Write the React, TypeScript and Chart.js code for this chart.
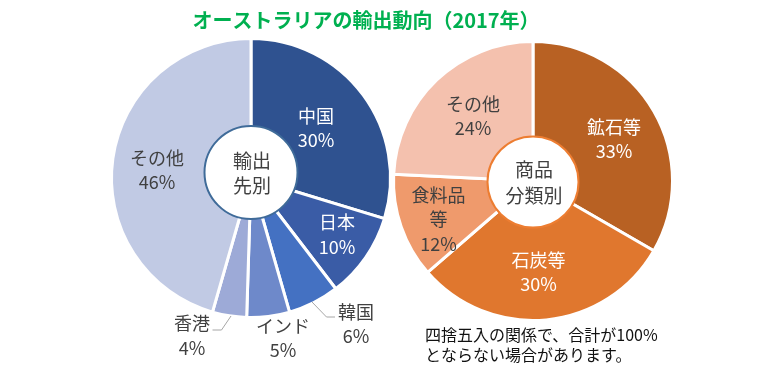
import React, { useEffect, useRef } from "react";
import { Chart, registerables } from "chart.js";

Chart.register(...registerables);

const TITLE = "オーストラリアの輸出動向（2017年）";

const destLabels = ["中国", "日本", "韓国", "インド", "香港", "その他"];
const destValues = [30, 10, 6, 5, 4, 46];
const destColors = ["#2F5290", "#3A5CA6", "#4471C2", "#6E89CA", "#9DAAD7", "#C1CAE4"];
const destCenter = ["輸出", "先別"];

const goodsLabels = ["鉱石等", "石炭等", "食料品等", "その他"];
const goodsValues = [33, 30, 12, 24];
const goodsColors = ["#B86123", "#E0772E", "#EF9A6C", "#F4C1AE"];
const goodsCenter = ["商品", "分類別"];

const NOTE = ["四捨五入の関係で、合計が100%", "とならない場合があります。"];

const FONT = '"Noto Sans CJK JP", "Noto Sans", sans-serif';
const DARK = "#404040";
const WHITE = "#FFFFFF";

type Lbl = { lines: string[]; x: number; y: number; color: string };

function drawLines(ctx: CanvasRenderingContext2D, l: Lbl, size: number, gap: number) {
  ctx.save();
  ctx.font = `${size}px ${FONT}`;
  ctx.fillStyle = l.color;
  ctx.textAlign = "center";
  ctx.textBaseline = "middle";
  l.lines.forEach((t, i) => ctx.fillText(t, l.x, l.y + i * gap));
  ctx.restore();
}

function leader(ctx: CanvasRenderingContext2D, pts: number[][]) {
  ctx.save();
  ctx.strokeStyle = "#A6A6A6";
  ctx.lineWidth = 1;
  ctx.beginPath();
  pts.forEach((p, i) => (i === 0 ? ctx.moveTo(p[0], p[1]) : ctx.lineTo(p[0], p[1])));
  ctx.stroke();
  ctx.restore();
}

function circle(ctx: CanvasRenderingContext2D, x: number, y: number, r: number, stroke: string) {
  ctx.save();
  ctx.beginPath();
  ctx.arc(x, y, r, 0, Math.PI * 2);
  ctx.fillStyle = "#FFFFFF";
  ctx.fill();
  ctx.lineWidth = 2;
  ctx.strokeStyle = stroke;
  ctx.stroke();
  ctx.restore();
}

const leftPlugin = {
  id: "leftDecor",
  afterDraw(chart: any) {
    const ctx = chart.ctx as CanvasRenderingContext2D;
    // title
    ctx.save();
    ctx.font = `bold 20px ${FONT}`;
    ctx.fillStyle = "#00B050";
    ctx.textAlign = "center";
    ctx.textBaseline = "middle";
    ctx.fillText(TITLE, 366, 20);
    ctx.restore();

    circle(ctx, 251, 172.5, 46.5, "#3F6B99");
    drawLines(ctx, { lines: destCenter, x: 252, y: 160.5, color: DARK }, 19, 25.5);

    const pcts = destValues.map((v) => `${v}%`);
    const labels: Lbl[] = [
      { lines: [destLabels[0], pcts[0]], x: 316, y: 116, color: WHITE },
      { lines: [destLabels[1], pcts[1]], x: 337, y: 222.5, color: WHITE },
      { lines: [destLabels[2], pcts[2]], x: 356, y: 312, color: DARK },
      { lines: [destLabels[3], pcts[3]], x: 283, y: 326, color: DARK },
      { lines: [destLabels[4], pcts[4]], x: 192, y: 323.5, color: DARK },
      { lines: [destLabels[5], pcts[5]], x: 157, y: 158, color: DARK },
    ];
    labels.forEach((l) => drawLines(ctx, l, 18, 24.5));

    leader(ctx, [[312, 302], [326.5, 317], [335, 317]]);
    leader(ctx, [[231, 316], [221.5, 330], [212.5, 330]]);
  },
};

const rightPlugin = {
  id: "rightDecor",
  afterDraw(chart: any) {
    const ctx = chart.ctx as CanvasRenderingContext2D;
    circle(ctx, 533, 182, 45.5, "#ED7D31");
    drawLines(ctx, { lines: goodsCenter, x: 534, y: 170, color: DARK }, 19, 25.5);

    const pcts = goodsValues.map((v) => `${v}%`);
    const labels: Lbl[] = [
      { lines: [goodsLabels[0], pcts[0]], x: 614, y: 127, color: WHITE },
      { lines: [goodsLabels[1], pcts[1]], x: 538.5, y: 260, color: WHITE },
      { lines: ["食料品", "等", pcts[2]], x: 438.5, y: 195, color: DARK },
      { lines: [goodsLabels[3], pcts[3]], x: 473, y: 104, color: DARK },
    ];
    labels.forEach((l) => drawLines(ctx, l, 18, 24.5));

    ctx.save();
    ctx.font = `16px ${FONT}`;
    ctx.fillStyle = "#111111";
    ctx.textAlign = "left";
    ctx.textBaseline = "middle";
    ctx.fillText(NOTE[0], 425, 335);
    ctx.fillText(NOTE[1], 425, 355);
    ctx.restore();
  },
};

function makeChart(
  canvas: HTMLCanvasElement,
  labels: string[],
  values: number[],
  colors: string[],
  padding: { left: number; top: number; right: number; bottom: number },
  plugin: any
) {
  return new Chart(canvas, {
    type: "pie",
    data: {
      labels,
      datasets: [
        {
          data: values,
          backgroundColor: colors,
          borderColor: "#FFFFFF",
          borderWidth: 3,
          hoverOffset: 0,
          offset: 0,
        },
      ],
    },
    options: {
      animation: false,
      responsive: false,
      events: [],
      layout: { padding },
      plugins: {
        legend: { display: false },
        tooltip: { enabled: false },
        title: { display: false },
      },
    },
    plugins: [plugin],
  });
}

export default function App() {
  const leftRef = useRef<HTMLCanvasElement>(null);
  const rightRef = useRef<HTMLCanvasElement>(null);

  useEffect(() => {
    document.body.style.margin = "0";
    const a = makeChart(
      leftRef.current!,
      destLabels,
      destValues,
      destColors,
      { left: 110, top: 37, right: 388, bottom: 53 },
      leftPlugin
    );
    const b = makeChart(
      rightRef.current!,
      goodsLabels,
      goodsValues,
      goodsColors,
      { left: 392, top: 40, right: 106, bottom: 50 },
      rightPlugin
    );
    return () => {
      a.destroy();
      b.destroy();
    };
  }, []);

  const cs: React.CSSProperties = { position: "absolute", left: 0, top: 0, width: 780, height: 372 };
  return (
    <div style={{ position: "relative", width: 780, height: 372, background: "#FFFFFF" }}>
      <canvas ref={leftRef} width={780} height={372} style={cs} />
      <canvas ref={rightRef} width={780} height={372} style={cs} />
    </div>
  );
}
